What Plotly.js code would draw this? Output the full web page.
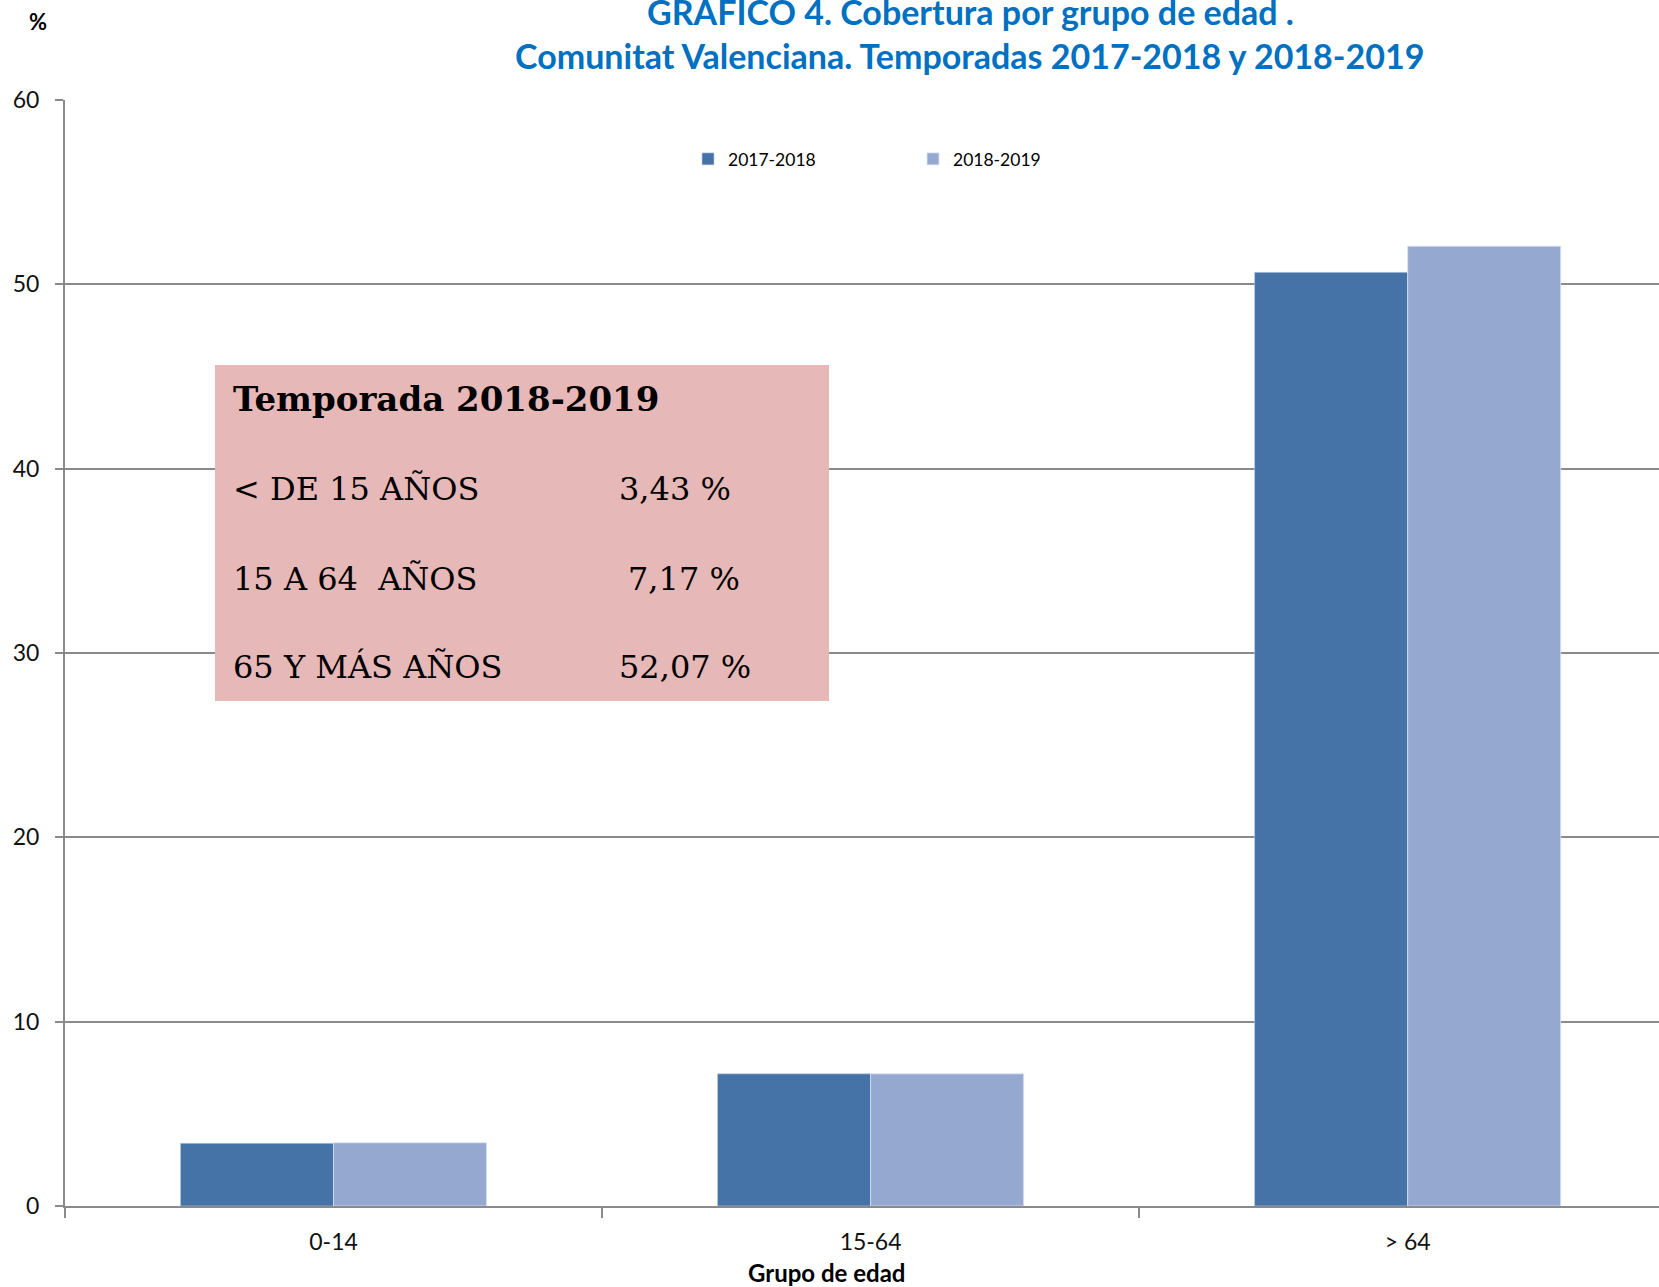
<!DOCTYPE html>
<html>
<head>
<meta charset="utf-8">
<script src="https://cdn.plot.ly/plotly-3.0.1.min.js"></script>
<style>html,body{margin:0;padding:0;background:#fff;}#chart{width:1659px;height:1287px;}</style>
</head>
<body>
<div id="chart"></div>
<script>
// ---- data ----
const categories = ['0-14', '15-64', '> 64'];
const seriesNames = ['2017-2018', '2018-2019'];
const values1718 = [3.40, 7.17, 50.65];
const values1819 = [3.43, 7.17, 52.07];
const yTicks = [0, 10, 20, 30, 40, 50, 60];
const boxTitle = 'Temporada 2018-2019';
const boxLabels = ['&lt; DE 15 AÑOS', '15 A 64  AÑOS', '65 Y MÁS AÑOS'];
const boxValues = ['3,43 %', '7,17 %', '52,07 %'];

// ---- geometry helpers (pixel -> paper) ----
const W = 1659, H = 1287;
const L = 65, R = 0, T = 100, B = 81;
const PW = W - L - R, PH = H - T - B;
const px = x => (x - L) / PW;
const py = y => (H - B - y) / PH;

const gridCol = '#8a8a8a';
const sans = 'Lato, "Open Sans", sans-serif';
const serif = '"DejaVu Serif", "Liberation Serif", serif';

const traces = [
  {type: 'bar', name: seriesNames[0], x: categories, y: values1718,
   marker: {color: '#4573A7', line: {color: 'rgba(190,205,230,0.6)', width: 1}}},
  {type: 'bar', name: seriesNames[1], x: categories, y: values1819,
   marker: {color: '#95A9D0', line: {color: 'rgba(220,228,242,0.8)', width: 1}}}
];

const annotations = [
  {text: '<b>GRAFICO 4. Cobertura por grupo de edad .</b>', xref: 'paper', yref: 'paper',
   x: px(970), y: py(11), xanchor: 'center', yanchor: 'middle', showarrow: false,
   font: {family: sans, size: 34, color: '#0070C0'}},
  {text: '<b>Comunitat Valenciana. Temporadas 2017-2018 y 2018-2019</b>', xref: 'paper', yref: 'paper',
   x: px(969), y: py(55), xanchor: 'center', yanchor: 'middle', showarrow: false,
   font: {family: sans, size: 34, color: '#0070C0'}},
  {text: '<b>%</b>', xref: 'paper', yref: 'paper', x: px(38), y: py(22),
   xanchor: 'center', yanchor: 'middle', showarrow: false,
   font: {family: sans, size: 22, color: '#000'}},
  {text: '<b>Grupo de edad</b>', xref: 'paper', yref: 'paper', x: px(827), y: py(1272),
   xanchor: 'center', yanchor: 'middle', showarrow: false,
   font: {family: sans, size: 24, color: '#000'}},
  {text: '<b>' + boxTitle + '</b>', xref: 'paper', yref: 'paper', x: px(231), y: py(399),
   xanchor: 'left', yanchor: 'middle', showarrow: false,
   font: {family: serif, size: 34, color: '#000'}}
];
const rowY = [489, 579, 667];
const valX = [617, 626, 617];
boxLabels.forEach((t, i) => {
  annotations.push({text: t, xref: 'paper', yref: 'paper', x: px(231), y: py(rowY[i]),
    xanchor: 'left', yanchor: 'middle', showarrow: false,
    font: {family: serif, size: 32, color: '#000'}});
  annotations.push({text: boxValues[i], xref: 'paper', yref: 'paper', x: px(valX[i]), y: py(rowY[i]),
    xanchor: 'left', yanchor: 'middle', showarrow: false,
    font: {family: serif, size: 32, color: '#000'}});
});

const layout = {
  width: W, height: H,
  margin: {l: L, r: R, t: T, b: B, pad: 0},
  paper_bgcolor: '#fff', plot_bgcolor: '#fff',
  barmode: 'group', bargap: 0.43, bargroupgap: 0,
  showlegend: true,
  legend: {orientation: 'h', x: px(688), y: py(159), xanchor: 'left', yanchor: 'middle',
    entrywidth: 180, entrywidthmode: 'pixels', itemwidth: 30,
    font: {family: sans, size: 17.5, color: '#000'}, bgcolor: 'rgba(0,0,0,0)'},
  xaxis: {type: 'category', range: [-0.5, 2.468], showline: true, linecolor: gridCol, linewidth: 2,
    ticks: 'outside', tickson: 'boundaries', ticklen: 10, tickwidth: 2, tickcolor: gridCol,
    showgrid: false, zeroline: false, ticklabelstandoff: 14,
    tickfont: {family: sans, size: 23, color: '#111'}},
  yaxis: {range: [0, 60], tickvals: yTicks, showline: true, linecolor: gridCol, linewidth: 2,
    ticks: 'outside', ticklen: 8, tickwidth: 2, tickcolor: gridCol,
    showgrid: true, gridcolor: gridCol, gridwidth: 2, zeroline: false, ticklabelstandoff: 11,
    tickfont: {family: sans, size: 23, color: '#111'}},
  shapes: [
    {type: 'rect', xref: 'paper', yref: 'paper', x0: px(215), x1: px(829), y0: py(701), y1: py(365),
     fillcolor: '#E6B8B7', line: {width: 0}, layer: 'above'}
  ],
  annotations: annotations
};

Plotly.newPlot('chart', traces, layout, {displayModeBar: false, staticPlot: true});
</script>
</body>
</html>
